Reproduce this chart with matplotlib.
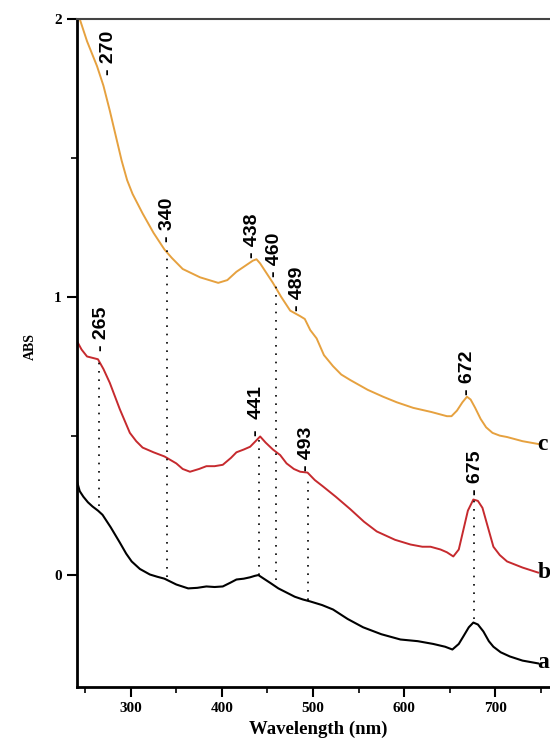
import numpy as np
import matplotlib.pyplot as plt
from matplotlib.ticker import MultipleLocator

# curve c (orange)
wl_c = [241, 244, 252, 263, 270, 277, 290, 296, 302, 313, 325, 337, 345, 357, 376, 396, 406, 416,
        425, 434, 438, 442, 450, 456, 465, 475, 486, 491, 497, 504, 512, 522, 531, 541, 560, 577,
        592, 610, 630, 647, 652, 658, 664, 669, 673, 678, 684, 690, 697, 705, 713, 730, 747]
abs_c = [2.08, 2.00, 1.92, 1.83, 1.76, 1.67, 1.49, 1.42, 1.37, 1.30, 1.23, 1.17, 1.14, 1.10, 1.07,
         1.05, 1.06, 1.09, 1.11, 1.13, 1.135, 1.12, 1.08, 1.05, 1.00, 0.95, 0.93, 0.92, 0.88, 0.85,
         0.79, 0.75, 0.72, 0.70, 0.665, 0.64, 0.62, 0.60, 0.585, 0.57, 0.57, 0.59, 0.62, 0.64, 0.63,
         0.60, 0.56, 0.53, 0.51, 0.50, 0.495, 0.48, 0.47]

# curve b (red)
wl_b = [241, 246, 252, 258, 264, 270, 277, 288, 299, 306, 313, 325, 337, 350, 357, 365, 375, 383,
        392, 401, 410, 416, 424, 431, 437, 442, 448, 456, 464, 471, 479, 486, 494, 502, 511, 525,
        541, 556, 570, 590, 607, 620, 629, 640, 647, 654, 660, 665, 670, 676, 681, 686, 692, 698,
        705, 713, 730, 747]
abs_b = [0.84, 0.81, 0.785, 0.78, 0.775, 0.74, 0.69, 0.595, 0.51, 0.48, 0.457, 0.44, 0.425, 0.40,
         0.38, 0.37, 0.38, 0.39, 0.39, 0.395, 0.42, 0.44, 0.45, 0.46, 0.48, 0.497, 0.475, 0.45, 0.43,
         0.40, 0.38, 0.37, 0.367, 0.34, 0.317, 0.28, 0.235, 0.19, 0.155, 0.125, 0.108, 0.10, 0.10,
         0.09, 0.08, 0.065, 0.09, 0.16, 0.23, 0.27, 0.265, 0.24, 0.17, 0.10, 0.07, 0.047, 0.025, 0.007]

# curve a (black)
wl_a = [241, 244, 248, 253, 258, 264, 269, 278, 288, 295, 301, 310, 321, 329, 337, 350, 363, 373,
        383, 392, 401, 409, 416, 424, 431, 436, 440, 446, 453, 462, 471, 480, 489, 497, 510, 522,
        538, 555, 575, 596, 615, 632, 645, 653, 660, 665, 671, 676, 681, 687, 693, 698, 706, 716,
        730, 747]
abs_a = [0.335, 0.30, 0.28, 0.26, 0.245, 0.23, 0.215, 0.17, 0.115, 0.075, 0.047, 0.02, 0.0, -0.008,
         -0.015, -0.036, -0.05, -0.048, -0.043, -0.045, -0.043, -0.03, -0.018, -0.015, -0.01, -0.005,
         -0.002, -0.015, -0.03, -0.05, -0.065, -0.08, -0.09, -0.097, -0.11, -0.126, -0.16, -0.19,
         -0.215, -0.234, -0.24, -0.25, -0.26, -0.27, -0.25, -0.223, -0.19, -0.173, -0.18, -0.205,
         -0.24, -0.26, -0.28, -0.295, -0.31, -0.32]

# dotted drop lines: wavelength, top, bottom
drop_wl = [265, 340, 441, 459, 495, 677]
drop_top = [0.775, 1.17, 0.497, 1.05, 0.36, 0.27]
drop_bot = [0.245, -0.01, 0.0, -0.02, -0.09, -0.16]

# peak labels: text, wavelength, absorbance of label base
peak_txt = ['- 270', '- 340', '- 438', '- 460', '- 489', '- 672', '- 265', '-  441', '- 493', '- 675']
peak_wl = [276, 340, 434, 458, 483.5, 670, 268, 438.5, 493, 678]
peak_y = [1.80, 1.196, 1.14, 1.07, 0.947, 0.648, 0.803, 0.497, 0.371, 0.288]

curve_names = ['a', 'b', 'c']
curve_name_y = [-0.318, 0.007, 0.468]

fig = plt.figure(figsize=(5.5, 7.42), dpi=100)
ax = fig.add_axes([77 / 550, 55 / 742, (559 - 77) / 550, (687 - 19) / 742])

ax.plot(wl_c, abs_c, color='#E6A13F', lw=1.4)
ax.plot(wl_b, abs_b, color='#C62A2E', lw=1.4)
ax.plot(wl_a, abs_a, color='black', lw=1.5)

for x, y0, y1 in zip(drop_wl, drop_top, drop_bot):
    ax.plot([x, x], [y1, y0], color='black', lw=1.2, ls=(0, (1, 4)))

for t, x, y in zip(peak_txt, peak_wl, peak_y):
    ax.text(x, y, t, rotation=90, ha='center', va='bottom', fontsize=14,
            fontweight='bold', family='Liberation Sans')

for n, y in zip(curve_names, curve_name_y):
    ax.text(746.5, y, n, ha='left', va='center', fontsize=17, fontweight='bold',
            family='Liberation Serif', clip_on=False)

ax.set_xlim(241, 770)
ax.set_ylim(-0.405, 2.0)
ax.xaxis.set_major_locator(MultipleLocator(100))
ax.xaxis.set_minor_locator(MultipleLocator(50))
ax.yaxis.set_major_locator(MultipleLocator(1))
ax.yaxis.set_minor_locator(MultipleLocator(0.5))
ax.tick_params(which='major', length=7, width=1.5, pad=4)
ax.tick_params(which='minor', length=4, width=1.2)
for lab in ax.get_xticklabels() + ax.get_yticklabels():
    lab.set_fontfamily('Liberation Serif')
    lab.set_fontweight('bold')
    lab.set_fontsize(11)

ax.spines['left'].set_linewidth(2)
ax.spines['bottom'].set_linewidth(2)
ax.spines['top'].set_linewidth(1.5)
ax.spines['top'].set_color('#444444')

ax.set_xlabel('Wavelength (nm)', fontsize=13.5, fontweight='bold', family='Liberation Serif', labelpad=4)
fig.text(30 / 550, 1 - 347 / 742, 'ABS', rotation=90, ha='center', va='center',
         fontsize=10, fontweight='bold', family='Liberation Serif')

fig.savefig('out.png', dpi=100)
